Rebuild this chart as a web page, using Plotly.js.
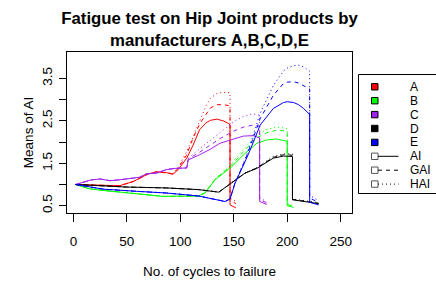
<!DOCTYPE html>
<html>
<head>
<meta charset="utf-8">
<script src="https://cdn.plot.ly/plotly-3.0.1.min.js"></script>
<style>html,body{margin:0;padding:0;background:#fff}#chart{width:436px;height:281px}</style>
</head>
<body>
<div id="chart"></div>
<script>
// ---- data ----
var manufacturers = ["A", "B", "C", "D", "E"];
var measures = ["AI", "GAI", "HAI"];

var aX   = [2, 20, 43, 56, 70, 78, 87, 93, 98, 106, 112, 118, 124, 128, 134, 140, 145, 146.5, 146.5, 152];
var aAI  = [1.0, 0.98, 0.97, 1.07, 1.25, 1.30, 1.28, 1.24, 1.35, 1.62, 1.93, 2.29, 2.45, 2.51, 2.54, 2.50, 2.44, 2.40, 0.52, 0.45];
var aGAI = [1.0, 0.98, 0.97, 1.07, 1.25, 1.30, 1.28, 1.25, 1.38, 1.70, 2.10, 2.42, 2.65, 2.80, 2.88, 2.88, 2.86, 2.85, 0.62, 0.55];
var aHAI = [1.0, 0.98, 0.97, 1.07, 1.25, 1.30, 1.28, 1.26, 1.40, 1.78, 2.12, 2.48, 2.85, 3.03, 3.14, 3.17, 3.17, 3.16, 0.68, 0.60];

var bX   = [2, 15, 28, 59, 84, 117, 123, 132.5, 148, 160, 171.6, 181, 190, 198, 200, 200, 206];
var bAI  = [1.0, 0.90, 0.86, 0.78, 0.72, 0.73, 0.80, 1.11, 1.42, 1.72, 1.97, 2.05, 2.07, 2.03, 2.01, 0.50, 0.46];
var bGAI = [1.0, 0.90, 0.86, 0.78, 0.72, 0.73, 0.80, 1.12, 1.46, 1.80, 2.10, 2.22, 2.28, 2.26, 2.24, 0.53, 0.48];
var bHAI = [1.0, 0.90, 0.86, 0.78, 0.72, 0.73, 0.80, 1.13, 1.50, 1.86, 2.16, 2.30, 2.35, 2.33, 2.31, 0.56, 0.50];

var cX   = [2, 17, 25, 34, 43, 56, 62, 68, 78, 87, 95, 106, 107.4, 118, 128, 137, 150, 159, 168, 173, 174.2, 174.2, 181];
var cAI  = [1.0, 1.11, 1.13, 1.09, 1.11, 1.15, 1.17, 1.25, 1.27, 1.35, 1.38, 1.39, 1.58, 1.70, 1.83, 1.97, 2.08, 2.14, 2.15, 2.11, 2.10, 0.60, 0.53];
var cGAI = [1.0, 1.11, 1.13, 1.09, 1.11, 1.15, 1.17, 1.25, 1.27, 1.35, 1.38, 1.39, 1.60, 1.76, 1.93, 2.08, 2.26, 2.35, 2.40, 2.38, 2.37, 0.64, 0.57];
var cHAI = [1.0, 1.11, 1.13, 1.09, 1.11, 1.15, 1.17, 1.25, 1.27, 1.35, 1.38, 1.39, 1.62, 1.84, 2.04, 2.24, 2.48, 2.60, 2.66, 2.64, 2.62, 0.68, 0.60];

var dX   = [2, 50, 86, 117, 136, 148, 160.6, 171.6, 187, 196.5, 204.4, 204.9, 204.9, 229.4];
var dAI  = [1.0, 0.94, 0.92, 0.88, 0.82, 1.03, 1.27, 1.38, 1.62, 1.67, 1.67, 1.66, 0.64, 0.55];
var dGAI = [1.0, 0.94, 0.92, 0.88, 0.82, 1.03, 1.27, 1.39, 1.64, 1.70, 1.70, 1.69, 0.65, 0.56];
var dHAI = [1.0, 0.94, 0.92, 0.88, 0.82, 1.03, 1.27, 1.40, 1.66, 1.72, 1.73, 1.72, 0.66, 0.57];

var eX   = [2, 28, 59, 87, 117, 135.6, 141.8, 146.5, 151.2, 160.6, 165.3, 174.7, 187, 196.5, 200, 206, 210.6, 215.3, 221, 221, 229.4];
var eAI  = [1.0, 0.89, 0.84, 0.80, 0.73, 0.62, 0.60, 0.66, 1.03, 1.54, 1.81, 2.40, 2.79, 2.93, 2.95, 2.93, 2.88, 2.79, 2.65, 0.58, 0.52];
var eGAI = [1.0, 0.89, 0.84, 0.80, 0.73, 0.62, 0.60, 0.66, 1.04, 1.57, 1.88, 2.55, 3.10, 3.38, 3.41, 3.42, 3.39, 3.32, 3.25, 0.68, 0.58];
var eHAI = [1.0, 0.89, 0.84, 0.80, 0.73, 0.62, 0.60, 0.66, 1.05, 1.60, 1.94, 2.68, 3.33, 3.67, 3.74, 3.80, 3.81, 3.77, 3.67, 0.74, 0.62];

var yTickVals = [0.5, 1, 1.5, 2, 2.5, 3, 3.5];
var yTickText = ["0.5", "", "1.5", "", "2.5", "", "3.5"];
var xTickVals = [0, 50, 100, 150, 200, 250];

// ---- styling ----
var colors = ["#FF0000", "#00FF00", "#A020F0", "#000000", "#0000FF"];
var dashes = ["solid", "4px,4px", "1px,3px"];
var FONT = "Liberation Sans, Arial, sans-serif";

var seriesData = [
  [aX, [aAI, aGAI, aHAI]],
  [bX, [bAI, bGAI, bHAI]],
  [cX, [cAI, cGAI, cHAI]],
  [dX, [dAI, dGAI, dHAI]],
  [eX, [eAI, eGAI, eHAI]]
];

var traces = [];
seriesData.forEach(function (s, i) {
  s[1].forEach(function (ys, j) {
    traces.push({
      type: "scatter", mode: "lines", x: s[0], y: ys,
      name: manufacturers[i] + " " + measures[j],
      line: {color: colors[i], width: 1, dash: dashes[j]},
      showlegend: false, hoverinfo: "skip"
    });
  });
});

// ---- layout ----
var W = 436, H = 281, ML = 67, MR = 84, MT = 52, MB = 68;
var PW = W - ML - MR, PH = H - MT - MB;
function px(x) { return (x - ML) / PW; }
function py(y) { return (H - MB - y) / PH; }

var shapes = [], annotations = [];
// legend frame
shapes.push({type: "rect", xref: "paper", yref: "paper", x0: px(358.5), x1: px(445), y0: py(193.5), y1: py(74.5),
  line: {color: "#000", width: 1}, fillcolor: "rgba(0,0,0,0)"});
var legendLabels = manufacturers.concat(measures);
for (var k = 0; k < legendLabels.length; k++) {
  var ry = 86.8 + 13.9 * k;
  var filled = k < manufacturers.length;
  shapes.push({type: "rect", xref: "paper", yref: "paper",
    x0: px(371.5), x1: px(378), y0: py(ry + 3.2), y1: py(ry - 3.2),
    line: {color: filled ? "#000" : "#555", width: 1},
    fillcolor: filled ? colors[k] : "rgba(0,0,0,0)"});
  if (!filled) {
    shapes.push({type: "line", xref: "paper", yref: "paper",
      x0: px(378), x1: px(398.5), y0: py(ry), y1: py(ry),
      line: {color: "#000", width: 1, dash: dashes[k - manufacturers.length]}});
  }
  annotations.push({xref: "paper", yref: "paper", x: px(407.5), y: py(ry), xanchor: "left", yanchor: "middle",
    text: legendLabels[k], showarrow: false, font: {family: FONT, size: 12, color: "#000"}});
}

var layout = {
  width: W, height: H,
  margin: {l: ML, r: MR, t: MT, b: MB, pad: 0},
  paper_bgcolor: "#fff", plot_bgcolor: "#fff",
  font: {family: FONT, size: 13.5, color: "#000"},
  title: {
    text: "<b>Fatigue test on Hip Joint products by<br>manufacturers A,B,C,D,E</b>",
    font: {family: FONT, size: 16.8, color: "#000"},
    x: 0.5, xref: "paper", xanchor: "center",
    y: 1 - 24 / H, yref: "container", yanchor: "middle",
    automargin: false
  },
  xaxis: {
    range: [-6, 260.6], tickvals: xTickVals, ticks: "outside", ticklen: 8, tickcolor: "#000",
    showgrid: false, zeroline: false, showline: true, mirror: true, linecolor: "#000", linewidth: 1,
    ticklabelstandoff: 8, tickfont: {size: 13.5},
    title: {text: "No. of cycles to failure", standoff: 18, font: {size: 13.5}}
  },
  yaxis: {
    range: [0.329, 4.12], tickvals: yTickVals, ticktext: yTickText, tickangle: -90,
    ticks: "outside", ticklen: 7, tickcolor: "#000",
    showgrid: false, zeroline: false, showline: true, mirror: true, linecolor: "#000", linewidth: 1,
    ticklabelstandoff: 2, tickfont: {size: 13.5},
    title: {text: "Means of AI", standoff: 2, font: {size: 13.5}}
  },
  shapes: shapes,
  annotations: annotations,
  showlegend: false
};

Plotly.newPlot("chart", traces, layout, {staticPlot: true, displayModeBar: false});
</script>
</body>
</html>
